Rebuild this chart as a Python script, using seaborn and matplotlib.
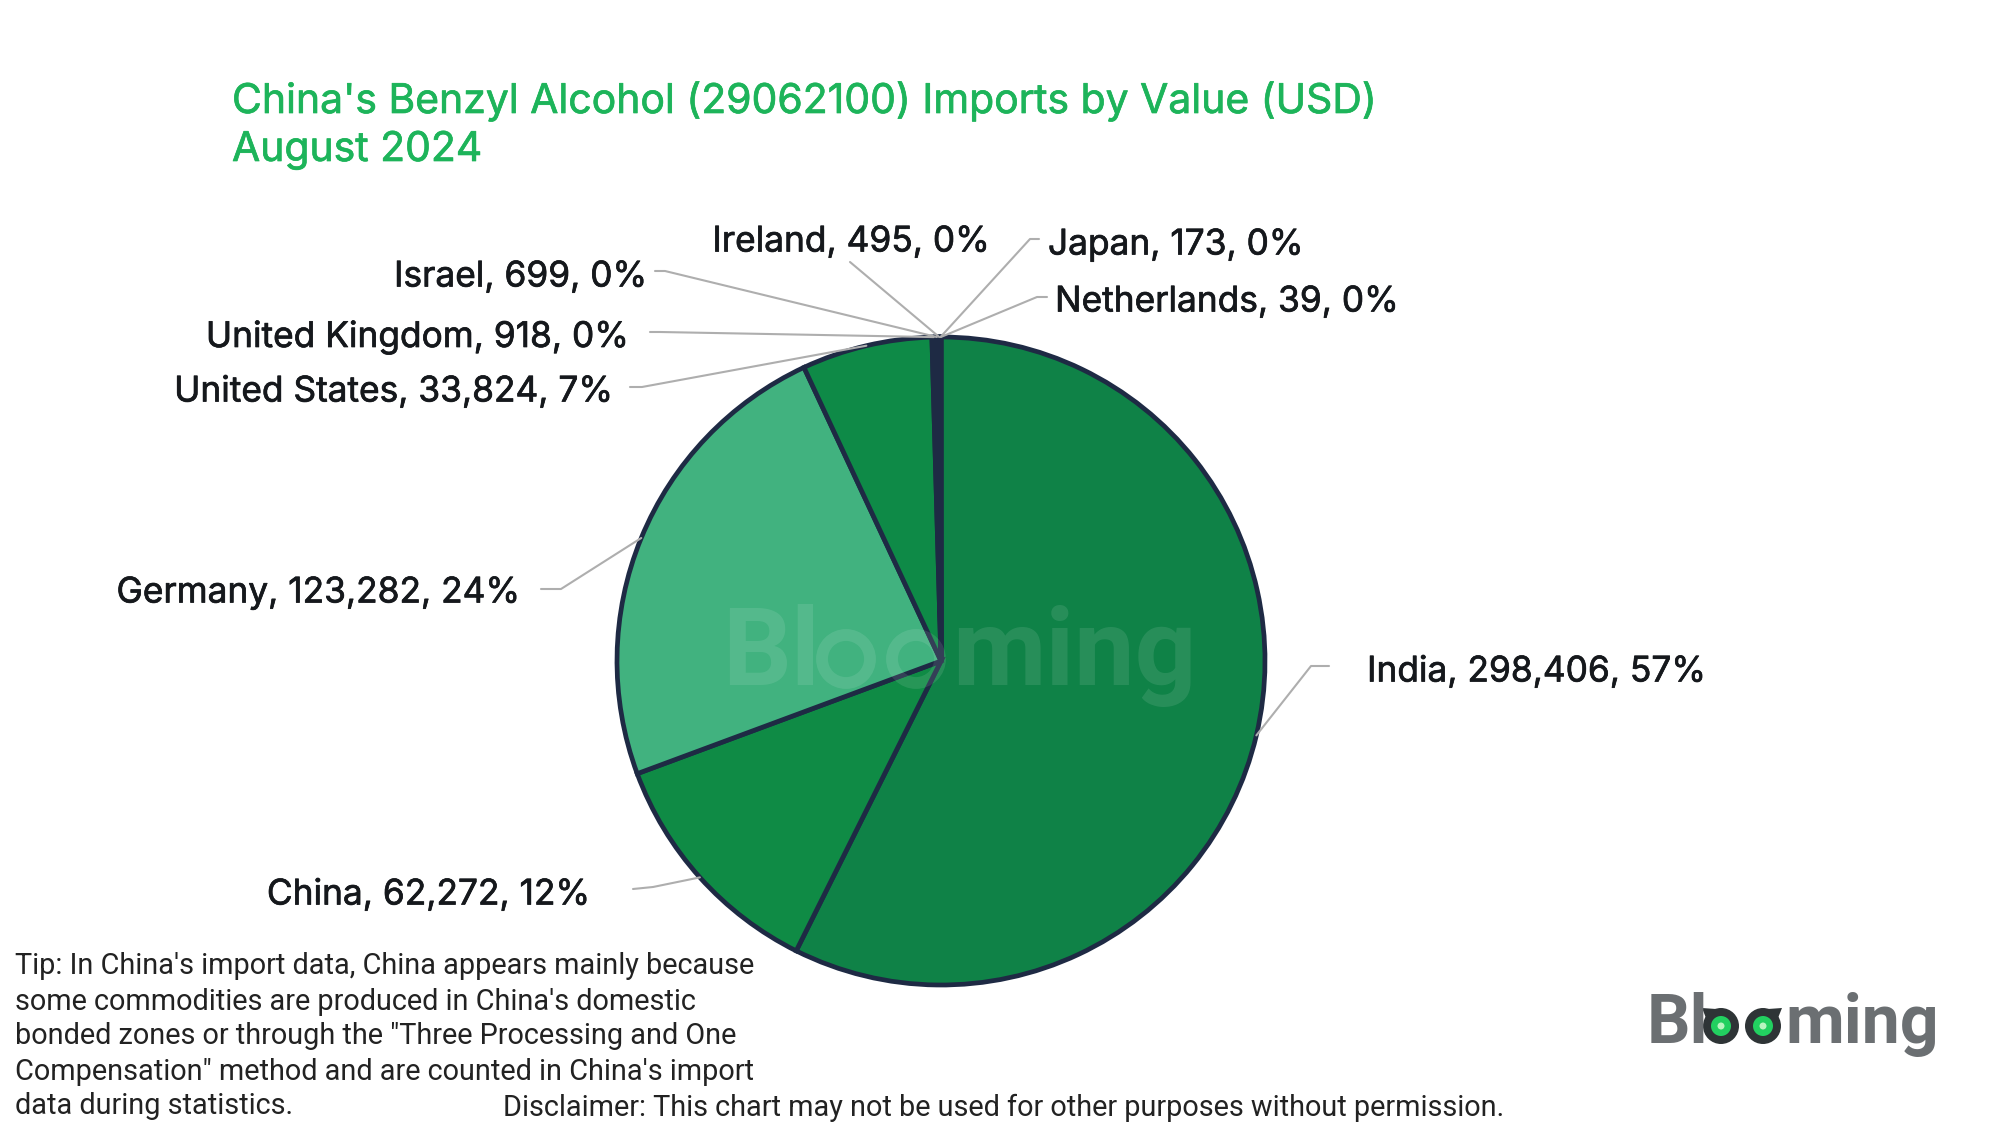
import numpy as np
import matplotlib
matplotlib.use("Agg")
import matplotlib.pyplot as plt
import matplotlib.patheffects as pe
from matplotlib.patches import Circle, Polygon
import seaborn as sns

# data
countries = ["India", "China", "Germany", "United States", "United Kingdom",
             "Israel", "Ireland", "Japan", "Netherlands"]
values = [298406, 62272, 123282, 33824, 918, 699, 495, 173, 39]

title_lines = ["China's Benzyl Alcohol (29062100) Imports by Value (USD)", "August 2024"]
tip_lines = [
    "Tip: In China's import data, China appears mainly because",
    "some commodities are produced in China's domestic",
    "bonded zones or through the \"Three Processing and One",
    "Compensation\" method and are counted in China's import",
    "data during statistics.",
]
disclaimer = "Disclaimer: This chart may not be used for other purposes without permission."

slice_colors = ["#0F8247", "#0F8B45", "#41B27F", "#0E8A47", "#1E2A44",
                "#1E2A44", "#1E2A44", "#1E2A44", "#1E2A44"]

# label layout in image pixels: text x, text y, alignment, elbow, line end
label_layout = {
    "India": (1367, 672, "left", (1311, 666), (1329, 666)),
    "China": (590, 895, "right", (653, 887), (633, 889)),
    "Germany": (520, 593, "right", (561, 589), (541, 589)),
    "United States": (613, 392, "right", (642, 387), (630, 387)),
    "United Kingdom": (629, 337, "right", (660, 332), (650, 332)),
    "Israel": (647, 277, "right", (665, 271), (655, 271)),
    "Ireland": (851, 242, "center", (850, 262), (850, 262)),
    "Japan": (1048, 245, "left", (1030, 239), (1039, 239)),
    "Netherlands": (1055, 302, "left", (1037, 297), (1047, 297)),
}

W, H = 2000, 1125
PX = 0.72  # points per pixel at dpi 100

sns.set_theme(style="white")
plt.rcParams["font.family"] = ["Inter", "DejaVu Sans"]

fig = plt.figure(figsize=(20, 11.25), dpi=100, facecolor="white")

# pie axes, square in pixels
cx, cy, r = 941, 661, 324
ax = fig.add_axes([(cx - r) / W, (H - cy - r) / H, 2 * r / W, 2 * r / H])
wedges, _ = ax.pie(values, colors=slice_colors, startangle=90, counterclock=False,
                   wedgeprops={"edgecolor": "#1E2A44", "linewidth": 3.4})
ax.set_xlim(-1, 1)
ax.set_ylim(-1, 1)

# overlay in image pixel coordinates
ov = fig.add_axes([0, 0, 1, 1], facecolor="none")
ov.set_xlim(0, W)
ov.set_ylim(H, 0)
ov.axis("off")


def heavier(color):
    # the reference type is a little heavier than the regular cut
    return [pe.withStroke(linewidth=0.5, foreground=color)]


total = sum(values)
for name, value, wedge in zip(countries, values, wedges):
    tx, ty, ha, elbow, end = label_layout[name]
    mid = np.deg2rad((wedge.theta1 + wedge.theta2) / 2)
    ax_x, ax_y = cx + r * np.cos(mid), cy - r * np.sin(mid)
    ov.plot([ax_x, elbow[0], end[0]], [ax_y, elbow[1], end[1]],
            color="#AEAEAE", lw=1.5, solid_capstyle="round", zorder=3)
    pct = round(value / total * 100)
    ov.text(tx, ty, f"{name}, {value:,}, {pct}%", ha=ha, va="center",
            fontsize=35.3 * PX, color="#15181C", path_effects=heavier("#15181C"))

for line, y in zip(title_lines, [101, 150]):
    ov.text(232, y, line, ha="left", va="center",
            fontsize=40.9 * PX, color="#1DB45A", path_effects=heavier("#1DB45A"))

roboto = ["Roboto", "DejaVu Sans"]
for line, y in zip(tip_lines, [966, 1002, 1036, 1072, 1106]):
    ov.text(15, y, line, ha="left", va="center", fontsize=28.9 * PX,
            color="#222222", family=roboto)
ov.text(503, 1108, disclaimer, ha="left", va="center", fontsize=28.9 * PX,
        color="#222222", family=roboto)


def draw_logo(x_left, x_ming, base, size, color, alpha):
    ov.text(x_left, base, "Bl", ha="left", va="baseline", fontsize=size * PX,
            color=color, alpha=alpha, fontweight="bold", family=roboto)
    ov.text(x_ming, base, "ming", ha="left", va="baseline", fontsize=size * PX,
            color=color, alpha=alpha, fontweight="bold", family=roboto)


# corner logo with owl eyes
draw_logo(1647, 1785, 1043, 68, "#6B6F72", 1.0)
for ex, ey in [(1721, 1026), (1763, 1026)]:
    ov.add_patch(Circle((ex, ey), 18, fc="#2E3436", ec="none"))
    ov.add_patch(Circle((ex, ey), 10, fc="#22D060", ec="none"))
    ov.add_patch(Circle((ex, ey), 3.5, fc="#B8F5C0", ec="none"))
ov.add_patch(Polygon([(1702, 1008), (1716, 1009), (1706, 1018)], fc="#2E3436", ec="none"))
ov.add_patch(Polygon([(1782, 1008), (1768, 1009), (1778, 1018)], fc="#2E3436", ec="none"))

# faint watermark on the pie
draw_logo(722, 952, 685, 108, "#FFFFFF", 0.1)
for ex in [846, 916]:
    ov.add_patch(Circle((ex, 659), 24, fc="none", ec="#FFFFFF", lw=8.5, alpha=0.1))

fig.savefig("out.png", dpi=100, facecolor="white")
